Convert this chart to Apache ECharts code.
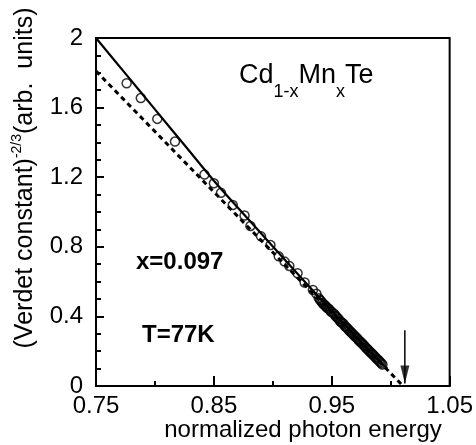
<!DOCTYPE html>
<html>
<head>
<meta charset="utf-8">
<script src="https://cdn.jsdelivr.net/npm/echarts@6/dist/echarts.min.js"></script>
<style>
  html, body { margin: 0; padding: 0; background: #fff; }
  #chart { width: 476px; height: 445px; }
</style>
</head>
<body>
<div id="chart"></div>
<script>
// Measured points: normalized photon energy vs (Verdet constant)^-2/3
const measuredX = [0.776, 0.788, 0.802, 0.817, 0.842, 0.850, 0.856, 0.866, 0.876, 0.881,
  0.890, 0.898, 0.905, 0.910, 0.914, 0.921, 0.927, 0.934, 0.937, 0.940,
  0.942, 0.944, 0.946, 0.948, 0.950, 0.953, 0.955, 0.957, 0.959, 0.961,
  0.963, 0.965, 0.967, 0.969, 0.971, 0.973, 0.975, 0.977, 0.979, 0.981,
  0.983, 0.985, 0.987, 0.989, 0.991, 0.993,
  0.939, 0.941, 0.943, 0.945, 0.947, 0.949, 0.952, 0.954, 0.956, 0.958,
  0.960, 0.962, 0.964, 0.966, 0.968, 0.970, 0.972, 0.974, 0.976, 0.978,
  0.980, 0.982, 0.984, 0.986, 0.988, 0.990, 0.992];
const measuredY = [1.740, 1.655, 1.535, 1.405, 1.215, 1.165, 1.110, 1.040, 0.980, 0.920,
  0.860, 0.810, 0.745, 0.715, 0.690, 0.648, 0.595, 0.552, 0.530, 0.495,
  0.478, 0.466, 0.450, 0.440, 0.425, 0.405, 0.390, 0.372, 0.362, 0.345,
  0.333, 0.318, 0.305, 0.290, 0.278, 0.262, 0.250, 0.236, 0.220, 0.207,
  0.193, 0.180, 0.165, 0.152, 0.138, 0.124,
  0.505, 0.488, 0.470, 0.458, 0.446, 0.430, 0.415, 0.398, 0.384, 0.368,
  0.356, 0.340, 0.326, 0.312, 0.298, 0.284, 0.270, 0.256, 0.243, 0.229,
  0.214, 0.200, 0.187, 0.173, 0.158, 0.145, 0.131];

// Theoretical fit (solid curve)
const fitX = [0.750, 0.775, 0.800, 0.825, 0.850, 0.875, 0.900, 0.925, 0.950, 0.975, 0.997];
const fitY = [2.000, 1.795, 1.590, 1.385, 1.180, 0.990, 0.802, 0.615, 0.432, 0.252, 0.100];

// Linear extrapolation (dashed) to the band edge
const linX = [0.750, 1.0105];
const linY = [1.810, 0.000];

// Arrow marking the extrapolated band edge: shaft top and tip
const arrowX = [1.012, 1.012];
const arrowY = [0.320, 0.015];

// Axis tick labels
const xTickLabels = ['0.75', '0.85', '0.95', '1.05'];
const yTickLabels = ['0', '0.4', '0.8', '1.2', '1.6', '2'];

const pairs = (xs, ys) => xs.map((x, i) => [x, ys[i]]);

const FONT = '"Liberation Sans", Arial, Helvetica, sans-serif';

const chart = echarts.init(document.getElementById('chart'), null, { renderer: 'canvas' });

chart.setOption({
  backgroundColor: '#fff',
  animation: false,
  grid: {
    left: 96, right: 24, top: 38, bottom: 59,
    show: true, borderColor: '#000', borderWidth: 2, backgroundColor: 'transparent'
  },
  xAxis: {
    type: 'value',
    min: 0.75, max: 1.05, interval: 0.1,
    axisLine: { lineStyle: { color: '#000', width: 2 } },
    axisTick: { inside: true, length: 10, lineStyle: { color: '#000', width: 2 } },
    minorTick: { show: true, splitNumber: 2, length: 5, lineStyle: { color: '#000', width: 2 } },
    splitLine: { show: false },
    axisLabel: {
      margin: 8, color: '#000', fontSize: 24, fontFamily: FONT,
      formatter: v => {
        const s = v.toFixed(2);
        return xTickLabels.includes(s) ? s : '';
      }
    }
  },
  yAxis: {
    type: 'value',
    min: 0, max: 2, interval: 0.4,
    axisLine: { lineStyle: { color: '#000', width: 2 } },
    axisTick: { inside: true, length: 8, lineStyle: { color: '#000', width: 2 } },
    minorTick: { show: true, splitNumber: 4, length: 5, lineStyle: { color: '#000', width: 2 } },
    splitLine: { show: false },
    axisLabel: {
      margin: 13, color: '#000', fontSize: 24, fontFamily: FONT,
      formatter: v => {
        const s = String(+v.toFixed(1));
        return yTickLabels.includes(s) ? s : '';
      }
    }
  },
  graphic: [
    {
      type: 'text', x: 303, y: 430,
      style: {
        text: 'normalized photon energy', font: '24px ' + FONT,
        fill: '#000', align: 'center', verticalAlign: 'middle'
      }
    },
    {
      type: 'text', x: 25, y: 178, rotation: Math.PI / 2,
      style: {
        text: '{m|(Verdet constant)}{s|-2/3}{m|(arb.  units)}',
        fill: '#000', align: 'center', verticalAlign: 'middle',
        rich: {
          m: { fontSize: 25, fontFamily: FONT, lineHeight: 30, fill: '#000' },
          s: { fontSize: 14, fontFamily: FONT, lineHeight: 16, verticalAlign: 'top', fill: '#000' }
        }
      }
    },
    {
      type: 'text', x: 239, y: 76,
      style: {
        text: '{m|Cd}{s|1-x}{m|Mn}{s|x}{m|Te}',
        fill: '#000', align: 'left', verticalAlign: 'middle',
        rich: {
          m: { fontSize: 27, fontFamily: FONT, lineHeight: 50, fill: '#000' },
          s: { fontSize: 18, fontFamily: FONT, lineHeight: 18, verticalAlign: 'bottom', fill: '#000' }
        }
      }
    },
    {
      type: 'text', x: 136, y: 262,
      style: {
        text: 'x=0.097', font: 'bold 24px ' + FONT,
        fill: '#000', align: 'left', verticalAlign: 'middle'
      }
    },
    {
      type: 'text', x: 142, y: 335,
      style: {
        text: 'T=77K', font: 'bold 24px ' + FONT,
        fill: '#000', align: 'left', verticalAlign: 'middle'
      }
    }
  ],
  series: [
    {
      type: 'line',
      data: pairs(linX, linY),
      showSymbol: false,
      lineStyle: { color: '#000', width: 3, type: [5, 4] },
      z: 2
    },
    {
      type: 'line',
      data: pairs(fitX, fitY),
      smooth: 0.3,
      showSymbol: false,
      lineStyle: { color: '#000', width: 2.2 },
      z: 3
    },
    {
      type: 'scatter',
      data: pairs(measuredX, measuredY),
      symbol: 'circle',
      symbolSize: 9,
      itemStyle: { color: 'rgba(0,0,0,0)', borderColor: '#000', borderWidth: 1.5 },
      z: 4
    },
    {
      // arrow shaft
      type: 'line',
      data: pairs(arrowX, arrowY),
      showSymbol: false,
      lineStyle: { color: '#000', width: 1.5 },
      z: 5
    },
    {
      // arrow head, tip on the last shaft point
      type: 'scatter',
      data: [[arrowX[1], arrowY[1]]],
      symbol: 'path://M0,0 L10,0 L5,22 Z',
      symbolSize: [9, 18],
      symbolOffset: [0, -9],
      itemStyle: { color: '#000' },
      z: 5
    }
  ]
});
</script>
</body>
</html>
